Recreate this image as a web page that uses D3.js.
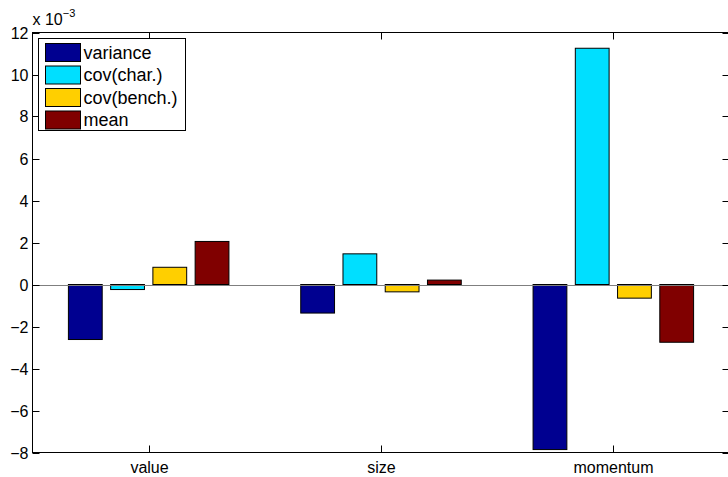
<!DOCTYPE html>
<html>
<head>
<meta charset="utf-8">
<script src="https://cdn.jsdelivr.net/npm/d3@7"></script>
<style>
  body { margin: 0; background: #fff; }
  svg text { font-family: "Liberation Sans", Arial, Helvetica, sans-serif; fill: #000; }
</style>
</head>
<body>
<div id="chart"></div>
<script>
// Data (values in units of 1e-3)
const categories = ["value", "size", "momentum"];
const seriesNames = ["variance", "cov(char.)", "cov(bench.)", "mean"];
const variance = [-2.62, -1.36, -7.86];
const covChar  = [-0.24, 1.46, 11.25];
const covBench = [0.82, -0.35, -0.65];
const meanVals = [2.05, 0.21, -2.75];
const yTicks = [-8, -6, -4, -2, 0, 2, 4, 6, 8, 10, 12];
const colors = ["#000090", "#00dfff", "#ffcf00", "#800000"];

const seriesValues = [variance, covChar, covBench, meanVals];

// Layout
const W = 728, H = 477;
const plotL = 32.5, plotR = 729.5, plotT = 32.5, plotB = 452.5;

const svg = d3.select("#chart").append("svg")
    .attr("width", W)
    .attr("height", H);

// Scales: categories sit at 1..3, limits at 0.5..3.5 like MATLAB
const x = d3.scaleLinear().domain([0.5, 3.5]).range([plotL, plotR]);
const y = d3.scaleLinear().domain([-8, 12]).range([plotB, plotT]);

// Grouped bar geometry
const nSeries = seriesNames.length;
const groupWidth = Math.min(0.8, nSeries / (nSeries + 1.5));
const slot = groupWidth / nSeries;
const barW = slot * 0.8;

// Bars
seriesValues.forEach((vals, s) => {
    const offset = -groupWidth / 2 + slot * (s + 0.5);
    svg.append("g").selectAll("rect")
        .data(vals)
        .enter()
        .append("rect")
        .attr("x", (d, i) => x(i + 1 + offset - barW / 2))
        .attr("width", (d, i) => x(i + 1 + offset + barW / 2) - x(i + 1 + offset - barW / 2))
        .attr("y", d => y(Math.max(0, d)))
        .attr("height", d => Math.abs(y(d) - y(0)))
        .attr("fill", colors[s])
        .attr("stroke", "#000")
        .attr("stroke-width", 1);
});

// Zero baseline
svg.append("line")
    .attr("x1", plotL).attr("x2", plotR)
    .attr("y1", Math.round(y(0)) + 0.5).attr("y2", Math.round(y(0)) + 0.5)
    .attr("stroke", "#7f7f7f")
    .attr("stroke-width", 1);

// Axes box
svg.append("rect")
    .attr("x", plotL).attr("y", plotT)
    .attr("width", plotR - plotL).attr("height", plotB - plotT)
    .attr("fill", "none")
    .attr("stroke", "#000")
    .attr("stroke-width", 1);

const tickLen = 7;

// Y ticks (left and right, inward)
yTicks.forEach(t => {
    const yy = Math.round(y(t)) + 0.5;
    svg.append("line")
        .attr("x1", plotL).attr("x2", plotL + tickLen)
        .attr("y1", yy).attr("y2", yy)
        .attr("stroke", "#000");
    svg.append("line")
        .attr("x1", plotR - tickLen).attr("x2", plotR)
        .attr("y1", yy).attr("y2", yy)
        .attr("stroke", "#000");
    svg.append("text")
        .attr("x", plotL - 4)
        .attr("y", yy)
        .attr("dy", "0.36em")
        .attr("text-anchor", "end")
        .style("font-size", "16px")
        .text(t < 0 ? "\u2212" + Math.abs(t) : t);
});

// X ticks (top and bottom, inward) and labels
categories.forEach((c, i) => {
    const xx = Math.round(x(i + 1)) + 0.5;
    svg.append("line")
        .attr("x1", xx).attr("x2", xx)
        .attr("y1", plotB - tickLen).attr("y2", plotB)
        .attr("stroke", "#000");
    svg.append("line")
        .attr("x1", xx).attr("x2", xx)
        .attr("y1", plotT).attr("y2", plotT + tickLen)
        .attr("stroke", "#000");
    svg.append("text")
        .attr("x", xx)
        .attr("y", plotB + 20)
        .attr("text-anchor", "middle")
        .style("font-size", "16px")
        .text(c);
});

// Exponent label
const expo = svg.append("text")
    .attr("x", plotL)
    .attr("y", 25)
    .style("font-size", "16px");
expo.append("tspan").text("x 10");
expo.append("tspan")
    .attr("dy", -8)
    .style("font-size", "11px")
    .text("\u22123");

// Legend
const legend = svg.append("g")
    .attr("transform", `translate(${plotL + 6}, ${plotT + 6})`);

legend.append("rect")
    .attr("x", 0).attr("y", 0)
    .attr("width", 147).attr("height", 92)
    .attr("fill", "#fff")
    .attr("stroke", "#000");

seriesNames.forEach((name, i) => {
    legend.append("rect")
        .attr("x", 7)
        .attr("y", 5 + i * 22.5)
        .attr("width", 35)
        .attr("height", 18)
        .attr("fill", colors[i])
        .attr("stroke", "#000");
    legend.append("text")
        .attr("x", 45)
        .attr("y", 14 + i * 22.5)
        .attr("dy", "0.36em")
        .style("font-size", "18px")
        .text(name);
});
</script>
</body>
</html>
